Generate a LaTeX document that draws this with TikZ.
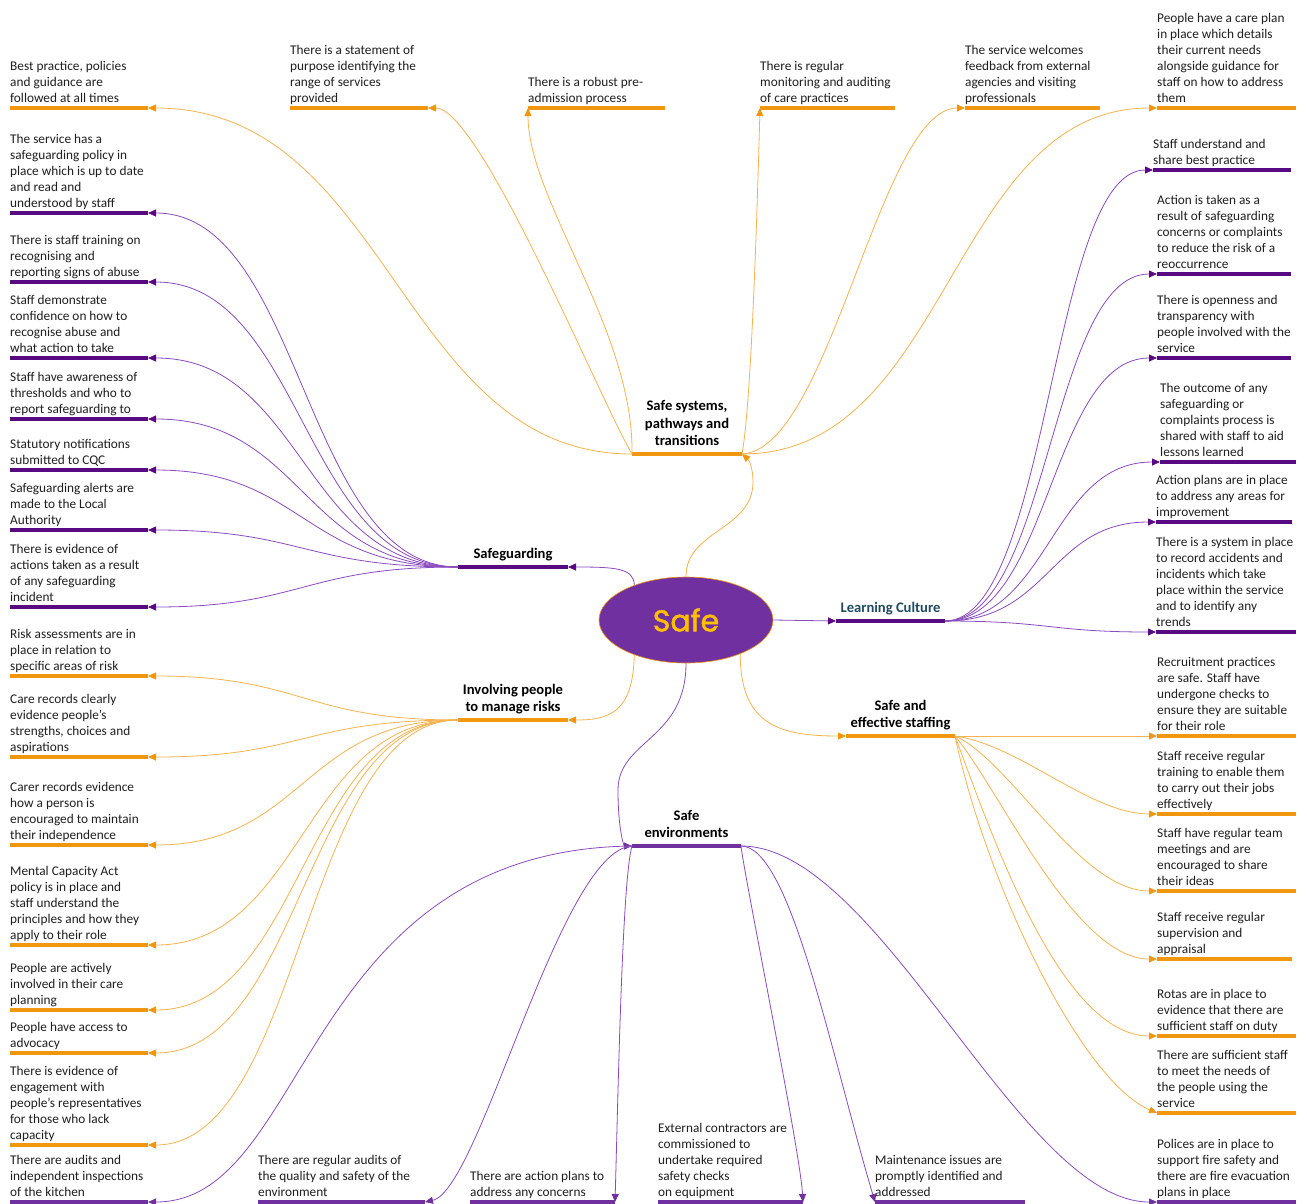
\documentclass[tikz,border=0pt]{standalone}
\usepackage{fontspec}
\setmainfont{Carlito}
\newfontfamily\safefont{Poppins}[RawFeature={embolden=1.6}]
\usetikzlibrary{arrows.meta,shapes.geometric}
\definecolor{org}{HTML}{F0960F}
\definecolor{orgl}{HTML}{F5B350}
\definecolor{dpur}{HTML}{580A82}
\definecolor{mpur}{HTML}{7030A0}
\definecolor{purl}{HTML}{8A4CBE}
\definecolor{lcblue}{HTML}{1F4A60}
\definecolor{safey}{HTML}{FFC000}
\tikzset{
  bar/.style={draw=none, inner sep=0pt, outer sep=0pt, minimum height=4pt},
  leaftext/.style={anchor=south west, inner sep=0pt, align=left, text depth=0pt,
    font=\fontsize{13.3}{16}\selectfont, text=black!88},
  hubtext/.style={anchor=south, inner sep=0pt, align=center, text depth=0pt,
    font=\bfseries\fontsize{14.6}{17.5}\selectfont},
  conO/.style={draw=orgl, line width=0.8pt, -{Triangle[length=8pt,width=7pt,color=org]}},
  conP/.style={draw=purl, line width=0.8pt, -{Triangle[length=8pt,width=7pt,color=dpur]}},
  conM/.style={draw=purl, line width=0.8pt, -{Triangle[length=8pt,width=7pt,color=mpur]}},
}
\newcommand\leaf[6]{%
  \node[bar, fill=#5, minimum width={(#3-#2)*1pt}] (#1) at ({(#2+#3)/2},#4) {};
  \node[leaftext] (#1t) at (#2,#4-5) {#6};
}
\newcommand\hub[7]{%
  \node[bar, fill=#5, minimum width={(#3-#2)*1pt}] (#1) at ({(#2+#3)/2},#4) {};
  \node[hubtext, text=#6] (#1t) at ({(#2+#3)/2},#4-8) {#7};
}
\begin{document}
\begin{tikzpicture}[x=1pt,y=-1pt]
\fill[white] (0,0) rectangle (1307,1203);
\useasboundingbox (0,0) rectangle (1307,1203);

% central node
\node[ellipse, fill=mpur, draw=org, line width=0.6pt, minimum width=174pt,
  minimum height=86pt, inner sep=0pt] (ell) at (686,620)
  {\safefont\fontsize{30}{32}\selectfont\color{safey}Safe};

% hubs
\hub{ss}{632}{742}{454}{org}{black}{Safe systems,\\pathways and\\transitions}
\hub{sg}{458}{568}{567}{dpur}{black}{Safeguarding}
\hub{lc}{836}{945}{621}{dpur}{lcblue}{Learning Culture}
\hub{ip}{458}{568}{720}{org}{black}{Involving people\\to manage risks}
\hub{ses}{846}{955}{736}{org}{black}{Safe and\\effective staffing}
\hub{se}{632}{741}{846}{mpur}{black}{Safe\\environments}

% Safe systems leaves
\leaf{bp}{10}{148}{108}{org}{Best practice, policies\\and guidance are\\followed at all times}
\leaf{stm}{290}{428}{108}{org}{There is a statement of\\purpose identifying the\\range of services\\provided}
\leaf{pre}{528}{665}{108}{org}{There is a robust pre-\\admission process}
\leaf{mon}{760}{895}{108}{org}{There is regular\\monitoring and auditing\\of care practices}
\leaf{wel}{965}{1100}{108}{org}{The service welcomes\\feedback from external\\agencies and visiting\\professionals}
\leaf{cpl}{1157}{1296}{108}{org}{People have a care plan\\in place which details\\their current needs\\alongside guidance for\\staff on how to address\\them}

% Safeguarding leaves
\leaf{sga}{10}{148}{213}{dpur}{The service has a\\safeguarding policy in\\place which is up to date\\and read and\\understood by staff}
\leaf{sgb}{10}{148}{282}{dpur}{There is staff training on\\recognising and\\reporting signs of abuse}
\leaf{sgc}{10}{148}{358}{dpur}{Staff demonstrate\\confidence on how to\\recognise abuse and\\what action to take}
\leaf{sgd}{10}{148}{419}{dpur}{Staff have awareness of\\thresholds and who to\\report safeguarding to}
\leaf{sge}{10}{148}{470}{dpur}{Statutory notifications\\submitted to CQC}
\leaf{sgf}{10}{148}{530}{dpur}{Safeguarding alerts are\\made to the Local\\Authority}
\leaf{sgg}{10}{148}{607}{dpur}{There is evidence of\\actions taken as a result\\of any safeguarding\\incident}

% Involving people leaves
\leaf{ipa}{10}{148}{676}{org}{Risk assessments are in\\place in relation to\\specific areas of risk}
\leaf{ipb}{10}{148}{757}{org}{Care records clearly\\evidence people’s\\strengths, choices and\\aspirations}
\leaf{ipc}{10}{148}{845}{org}{Carer records evidence\\how a person is\\encouraged to maintain\\their independence}
\leaf{ipd}{10}{148}{945}{org}{Mental Capacity Act\\policy is in place and\\staff understand the\\principles and how they\\apply to their role}
\leaf{ipe}{10}{148}{1010}{org}{People are actively\\involved in their care\\planning}
\leaf{ipf}{10}{148}{1053}{org}{People have access to\\advocacy}
\leaf{ipg}{10}{148}{1145}{org}{There is evidence of\\engagement with\\people’s representatives\\for those who lack\\capacity}

% Learning culture leaves
\leaf{lca}{1153}{1291}{170}{dpur}{Staff understand and\\share best practice}
\leaf{lcb}{1157}{1291}{274}{dpur}{Action is taken as a\\result of safeguarding\\concerns or complaints\\to reduce the risk of a\\reoccurrence}
\leaf{lcc}{1157}{1291}{358}{dpur}{There is openness and\\transparency with\\people involved with the\\service}
\leaf{lcd}{1160}{1296}{462}{dpur}{The outcome of any\\safeguarding or\\complaints process is\\shared with staff to aid\\lessons learned}
\leaf{lce}{1156}{1292}{522}{dpur}{Action plans are in place\\to address any areas for\\improvement}
\leaf{lcf}{1156}{1296}{632}{dpur}{There is a system in place\\to record accidents and\\incidents which take\\place within the service\\and to identify any\\trends}

% Staffing leaves
\leaf{sfa}{1157}{1296}{736}{org}{Recruitment practices\\are safe. Staff have\\undergone checks to\\ensure they are suitable\\for their role}
\leaf{sfb}{1157}{1296}{814}{org}{Staff receive regular\\training to enable them\\to carry out their jobs\\effectively}
\leaf{sfc}{1157}{1296}{891}{org}{Staff have regular team\\meetings and are\\encouraged to share\\their ideas}
\leaf{sfd}{1157}{1292}{959}{org}{Staff receive regular\\supervision and\\appraisal}
\leaf{sfe}{1157}{1296}{1036}{org}{Rotas are in place to\\evidence that there are\\sufficient staff on duty}
\leaf{sff}{1157}{1296}{1113}{org}{There are sufficient staff\\to meet the needs of\\the people using the\\service}

% Safe environments leaves
\leaf{kit}{10}{148}{1202}{mpur}{There are audits and\\independent inspections\\of the kitchen}
\leaf{aud}{258}{425}{1202}{mpur}{There are regular audits of\\the quality and safety of the\\environment}
\leaf{act}{470}{615}{1202}{mpur}{There are action plans to\\address any concerns}
\leaf{ext}{658}{803}{1202}{mpur}{External contractors are\\commissioned to\\undertake required\\safety checks\\on equipment}
\leaf{mnt}{875}{1025}{1202}{mpur}{Maintenance issues are\\promptly identified and\\addressed}
\leaf{fir}{1157}{1296}{1202}{mpur}{Polices are in place to\\support fire safety and\\there are fire evacuation\\plans in place}

% centre to hubs
\draw[conO] (ell.north) .. controls (686,530) and (753,530) .. (753,482)
  .. controls (753,468) and (749,460) .. (ss.east);
\draw[conP] (ell.146) .. controls (634,568) and (615,567) .. (sg.east);
\draw[conP] (ell.east) -- (lc.west);
\draw[conO] (ell.214) .. controls (633,712) and (610,720) .. (ip.east);
\draw[conO] (ell.328) .. controls (740,725) and (780,736) .. (ses.west);
\draw[conM] (ell.south) .. controls (686,740) and (618,740) .. (618,790)
  .. controls (618,830) and (624,846) .. (se.west);

% Safe systems connectors
\draw[conO] (ss.west) .. controls (400,454) and (390,108) .. (bp.east);
\draw[conO] (ss.west) .. controls (600,400) and (480,108) .. (stm.east);
\draw[conO] (ss.west) .. controls (634,330) and (528,200) .. (pre.west);
\draw[conO] (ss.east) .. controls (752,400) and (758,180) .. (mon.west);
\draw[conO] (ss.east) .. controls (830,450) and (880,108) .. (wel.west);
\draw[conO] (ss.east) .. controls (950,454) and (950,108) .. (cpl.west);

% Safeguarding connectors
\foreach \n/\yy in {sga/213,sgb/282,sgc/358,sgd/419,sge/470,sgf/530,sgg/607}
  \draw[conP] (sg.west) .. controls (303,567) and (303,\yy) .. (\n.east);

% Involving people connectors
\foreach \n/\yy in {ipa/676,ipb/757,ipc/845,ipd/945,ipe/1010,ipf/1053,ipg/1145}
  \draw[conO] (ip.west) .. controls (303,720) and (303,\yy) .. (\n.east);

% Learning culture connectors
\foreach \n/\yy in {lca/170,lcb/274,lcc/358,lcd/462,lce/522,lcf/632}
  \draw[conP] (lc.east) .. controls (1050,621) and (1050,\yy) .. (\n.west);

% Staffing connectors
\draw[conO] (ses.east) -- (sfa.west);
\draw[conO] (ses.east) .. controls (1020,745) and (1090,814) .. (sfb.west);
\draw[conO] (ses.east) .. controls (1010,760) and (1080,891) .. (sfc.west);
\draw[conO] (ses.east) .. controls (1000,790) and (1075,959) .. (sfd.west);
\draw[conO] (ses.east) .. controls (990,830) and (1060,1036) .. (sfe.west);
\draw[conO] (ses.east) .. controls (985,880) and (1080,1080) .. (sff.west);

% Safe environments connectors
\draw[conM] (se.west) .. controls (300,850) and (310,1202) .. (kit.east);
\draw[conM] (se.west) .. controls (560,850) and (480,1190) .. (aud.east);
\draw[conM] (se.west) .. controls (622,880) and (618,1100) .. (act.east);
\draw[conM] (se.east) .. controls (745,880) and (800,1150) .. (ext.east);
\draw[conM] (se.east) .. controls (790,846) and (830,1050) .. (mnt.west);
\draw[conM] (se.east) .. controls (880,846) and (1020,1202) .. (fir.west);
\end{tikzpicture}
\end{document}
